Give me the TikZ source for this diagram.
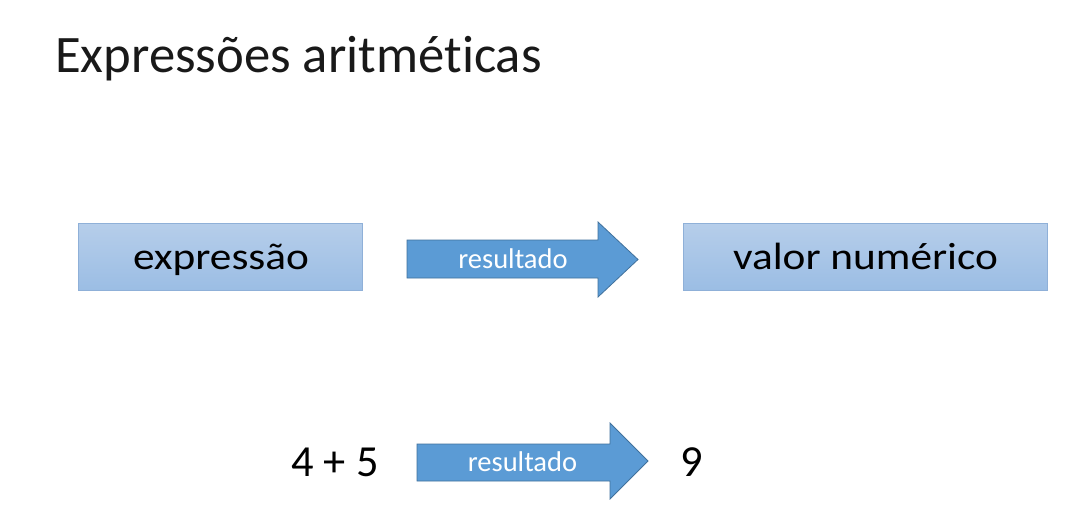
\documentclass[tikz,border=0pt]{standalone}
\usepackage{fontspec}
\setmainfont{Carlito}[Ligatures={NoCommon,NoContextual}]
\newfontfamily\boxfont{Carlito}[FakeStretch=1.14, Ligatures={NoCommon,NoContextual}]
\definecolor{boxtop}{RGB}{182,206,234}
\definecolor{boxbot}{RGB}{155,189,228}
\definecolor{boxline}{RGB}{143,176,216}
\definecolor{arrfill}{RGB}{91,155,213}
\definecolor{arrline}{RGB}{65,113,156}
\tikzset{
  box/.style={draw=boxline, line width=0.6pt, top color=boxtop, bottom color=boxbot},
  bigarrow/.style={draw=arrline, line width=0.6pt, fill=arrfill},
  boxtext/.style={anchor=base, inner sep=0pt, font=\boxfont\fontsize{28.5}{30}\selectfont, text=black},
  arrtext/.style={anchor=base, inner sep=0pt, font=\fontsize{21.4}{24}\selectfont, text=white},
  numtext/.style={anchor=base, inner sep=0pt, font=\fontsize{33.3}{36}\selectfont, text=black},
}
\begin{document}
\begin{tikzpicture}[x=0.75pt, y=-0.75pt]
\fill[white] (0,0) rectangle (1082,522);
\useasboundingbox (0,0) rectangle (1082,522);
% title
\node[anchor=base west, inner sep=0pt, font=\fontsize{39.5}{44}\selectfont, text=black!90] (title) at (55,72) {Expressões aritméticas};
% boxes
\draw[box] (78,223) rectangle (362,290);
\draw[box] (683,223) rectangle (1047,290);
\node[boxtext] (expr) at (221,269.5) {expressão};
\node[boxtext] (valor) at (865.5,269.3) {valor numérico};
% arrow 1
\draw[bigarrow] (407,240) -- (598,240) -- (598,222) -- (638,259.5) -- (598,297) -- (598,278) -- (407,278) -- cycle;
\node[arrtext] (res1) at (513,268.3) {resultado};
% second row
\node[numtext] (sum) at (335,476.7) {4 + 5};
\draw[bigarrow] (417,444) -- (610,444) -- (610,423) -- (648,461) -- (610,499) -- (610,481) -- (417,481) -- cycle;
\node[arrtext] (res2) at (522.5,471.5) {resultado};
\node[numtext] (nine) at (692,476.7) {9};
\end{tikzpicture}
\end{document}
